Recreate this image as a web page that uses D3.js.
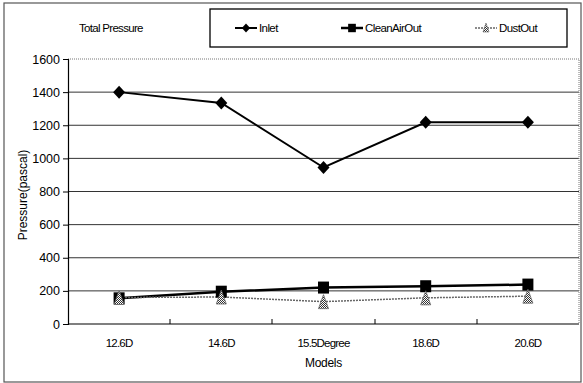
<!DOCTYPE html>
<html>
<head>
<meta charset="utf-8">
<script src="https://cdn.jsdelivr.net/npm/d3@7"></script>
<style>
  body { margin: 0; background: #fff; }
  svg text { font-family: "Liberation Sans", Arial, sans-serif; fill: #000; }
</style>
</head>
<body>
<div id="chart"></div>
<script>
// datos
const models = ["12.6D", "14.6D", "15.5Degree", "18.6D", "20.6D"];
const inlet = [1400, 1335, 945, 1218, 1218];
const cleanAirOut = [155, 195, 220, 228, 238];
const dustOut = [160, 163, 135, 158, 168];
const yTicks = [0, 200, 400, 600, 800, 1000, 1200, 1400, 1600];
const seriesNames = ["Inlet", "CleanAirOut", "DustOut"];

const width = 583;
const height = 383;
const plot = { left: 68, right: 579, top: 59, bottom: 324 };

const svg = d3
  .select("#chart")
  .append("svg")
  .attr("width", width)
  .attr("height", height);

// patron de puntos para el triangulo
const defs = svg.append("defs");
const pat = defs
  .append("pattern")
  .attr("id", "checker")
  .attr("width", 2)
  .attr("height", 2)
  .attr("patternUnits", "userSpaceOnUse");
pat.append("rect").attr("width", 2).attr("height", 2).attr("fill", "#fff");
pat.append("rect").attr("width", 1).attr("height", 1).attr("fill", "#333");
pat.append("rect").attr("x", 1).attr("y", 1).attr("width", 1).attr("height", 1).attr("fill", "#333");

// marco exterior
svg
  .append("rect")
  .attr("x", 4)
  .attr("y", 3)
  .attr("width", 577)
  .attr("height", 379)
  .attr("fill", "#fff")
  .attr("stroke", "#555")
  .attr("stroke-width", 1.2);

const x = d3.scaleBand().domain(models).range([plot.left, plot.right]);
const y = d3.scaleLinear().domain([0, 1600]).range([plot.bottom, plot.top]);
const cx = (d) => x(d) + x.bandwidth() / 2;

// lineas de cuadricula
svg
  .append("g")
  .selectAll("line")
  .data(yTicks.filter((t) => t > 0 && t < 1600))
  .join("line")
  .attr("x1", plot.left)
  .attr("x2", plot.right)
  .attr("y1", (d) => y(d))
  .attr("y2", (d) => y(d))
  .attr("stroke", "#333")
  .attr("stroke-width", 1);

// borde punteado superior y derecho
svg
  .append("path")
  .attr("d", `M${plot.left},${y(1600)}H${plot.right}V${plot.bottom}`)
  .attr("fill", "none")
  .attr("stroke", "#777")
  .attr("stroke-width", 1)
  .attr("stroke-dasharray", "1,1");

// eje y
const yAxis = svg
  .append("g")
  .attr("transform", `translate(${plot.left},0)`)
  .call(
    d3
      .axisLeft(y)
      .tickValues(yTicks)
      .tickFormat(d3.format("d"))
      .tickSize(5)
      .tickPadding(3)
  );
yAxis.select(".domain").attr("stroke", "#000").attr("stroke-width", 1.2);
yAxis.selectAll(".tick line").attr("stroke", "#000");
yAxis
  .selectAll(".tick text")
  .style("font-size", "12.5px")
  .attr("fill", "#000");

// eje x con marcas hacia adentro entre categorias
svg
  .append("line")
  .attr("x1", plot.left)
  .attr("x2", plot.right)
  .attr("y1", plot.bottom)
  .attr("y2", plot.bottom)
  .attr("stroke", "#000")
  .attr("stroke-width", 1.2);

svg
  .append("g")
  .selectAll("line")
  .data(models.slice(1))
  .join("line")
  .attr("x1", (d) => Math.round(x(d)))
  .attr("x2", (d) => Math.round(x(d)))
  .attr("y1", plot.bottom)
  .attr("y2", plot.bottom - 5)
  .attr("stroke", "#000");

svg
  .append("g")
  .selectAll("text")
  .data(models)
  .join("text")
  .attr("x", (d) => cx(d))
  .attr("y", 347)
  .attr("text-anchor", "middle")
  .style("font-size", "11.5px")
  .style("letter-spacing", "-0.8px")
  .text((d) => d);

svg
  .append("text")
  .attr("x", (plot.left + plot.right) / 2)
  .attr("y", 367)
  .attr("text-anchor", "middle")
  .style("font-size", "12px")
  .style("letter-spacing", "-0.3px")
  .text("Models");

svg
  .append("text")
  .attr("transform", `translate(27,195) rotate(-90)`)
  .attr("text-anchor", "middle")
  .style("font-size", "12px")
  .text("Pressure(pascal)");

// series
const line = d3
  .line()
  .x((d, i) => cx(models[i]))
  .y((d) => y(d));

const series = [
  { name: "Inlet", values: inlet, stroke: "#000", width: 2, dash: null, marker: "diamond" },
  { name: "CleanAirOut", values: cleanAirOut, stroke: "#000", width: 2.5, dash: null, marker: "square" },
  { name: "DustOut", values: dustOut, stroke: "#666", width: 1.5, dash: "2,1", marker: "triangle" },
];

function drawMarker(g, type, px, py) {
  if (type === "diamond") {
    g.append("path")
      .attr("d", `M${px},${py - 6.5}L${px + 6},${py}L${px},${py + 6.5}L${px - 6},${py}Z`)
      .attr("fill", "#000");
  } else if (type === "square") {
    g.append("rect")
      .attr("x", px - 5.5)
      .attr("y", py - 6)
      .attr("width", 11)
      .attr("height", 12)
      .attr("fill", "#000");
  } else {
    g.append("path")
      .attr("d", `M${px},${py - 7}L${px + 5},${py + 7}L${px - 5},${py + 7}Z`)
      .attr("fill", "url(#checker)")
      .attr("stroke", "#666")
      .attr("stroke-width", 0.8);
  }
}

series.forEach((s) => {
  svg
    .append("path")
    .datum(s.values)
    .attr("d", line)
    .attr("fill", "none")
    .attr("stroke", s.stroke)
    .attr("stroke-width", s.width)
    .attr("stroke-dasharray", s.dash);
});

series.forEach((s) => {
  const g = svg.append("g");
  s.values.forEach((v, i) => drawMarker(g, s.marker, cx(models[i]), y(v)));
});

// titulo y leyenda
svg
  .append("text")
  .attr("x", 79)
  .attr("y", 32)
  .style("font-size", "11.5px")
  .style("letter-spacing", "-0.7px")
  .text("Total Pressure");

const legend = svg.append("g").attr("id", "legend");
legend
  .append("rect")
  .attr("x", 210)
  .attr("y", 9)
  .attr("width", 357)
  .attr("height", 38)
  .attr("fill", "#fff")
  .attr("stroke", "#000")
  .attr("stroke-width", 1.3);

const legendX = [235, 341, 475];
series.forEach((s, i) => {
  const lx = legendX[i];
  legend
    .append("line")
    .attr("x1", lx)
    .attr("x2", lx + 22)
    .attr("y1", 28)
    .attr("y2", 28)
    .attr("stroke", s.stroke)
    .attr("stroke-width", s.width)
    .attr("stroke-dasharray", s.dash);
  const m = legend.append("g");
  if (s.marker === "triangle") {
    m.append("path")
      .attr("d", `M${lx + 11},${23}L${lx + 14},${32}L${lx + 8},${32}Z`)
      .attr("fill", "url(#checker)")
      .attr("stroke", "#666")
      .attr("stroke-width", 0.6);
  } else {
    const g2 = m.append("g").attr("transform", `translate(${lx + 11},28) scale(0.7) translate(${-(lx + 11)},-28)`);
    drawMarker(g2, s.marker, lx + 11, 28);
  }
  legend
    .append("text")
    .attr("x", lx + 24)
    .attr("y", 32)
    .style("font-size", "11.5px")
    .style("letter-spacing", "-0.6px")
    .text(seriesNames[i]);
});
</script>
</body>
</html>
